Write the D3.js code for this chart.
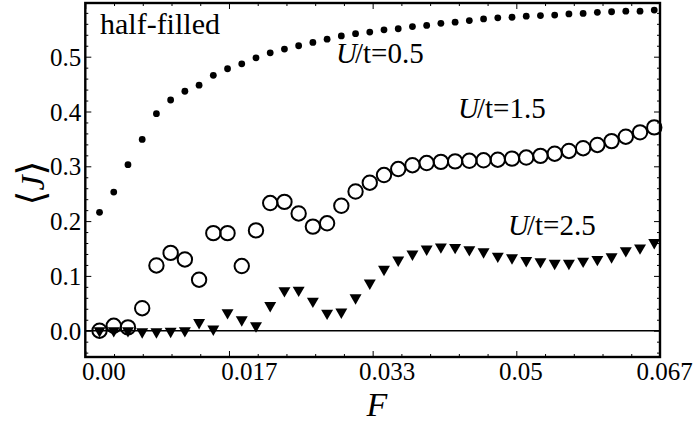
<!DOCTYPE html>
<html><head><meta charset="utf-8">
<script src="https://cdn.jsdelivr.net/npm/d3@7"></script>
<style>
html,body{margin:0;padding:0;background:#fff;}
svg{display:block;}
text{font-family:"Liberation Serif","Times New Roman",serif;fill:#000;}
</style></head>
<body>
<svg id="chart" width="693" height="423"></svg>
<script>
// ---- data ----
const F = [0.00165,0.0033,0.00495,0.0066,0.00825,0.0099,0.01155,0.0132,0.01485,0.0165,
  0.01815,0.0198,0.02145,0.0231,0.02475,0.0264,0.02805,0.0297,0.03135,0.033,
  0.03465,0.0363,0.03795,0.0396,0.04125,0.0429,0.04455,0.0462,0.04785,0.0495,
  0.05115,0.0528,0.05445,0.0561,0.05775,0.0594,0.06105,0.0627,0.06435,0.066];
const J_U05 = [0.216,0.253,0.303,0.349,0.396,0.421,0.437,0.448,0.466,0.478,
  0.487,0.498,0.507,0.514,0.520,0.526,0.532,0.538,0.542,0.545,
  0.549,0.551,0.555,0.557,0.561,0.563,0.566,0.569,0.571,0.572,
  0.574,0.575,0.576,0.578,0.579,0.581,0.582,0.583,0.583,0.585];
const J_U15 = [0.000,0.009,0.006,0.041,0.119,0.142,0.130,0.093,0.178,0.178,
  0.118,0.183,0.233,0.235,0.214,0.190,0.196,0.228,0.254,0.270,
  0.284,0.295,0.302,0.306,0.308,0.309,0.310,0.311,0.312,0.314,
  0.316,0.319,0.323,0.328,0.333,0.339,0.346,0.354,0.362,0.371];
const J_U25 = [0.000,0.000,0.000,-0.002,-0.002,-0.001,0.000,0.015,0.003,0.033,
  0.020,0.009,0.046,0.073,0.074,0.054,0.032,0.034,0.060,0.087,
  0.112,0.129,0.140,0.149,0.153,0.152,0.148,0.144,0.136,0.133,
  0.128,0.126,0.123,0.123,0.127,0.130,0.135,0.146,0.151,0.161];
const xTickValues = [0, 1/60, 2/60, 3/60, 4/60];
const xTickLabels = ["0.00","0.017","0.033","0.05","0.067"];
const yTickValues = [0.0,0.1,0.2,0.3,0.4,0.5];
const yTickLabels = ["0.0","0.1","0.2","0.3","0.4","0.5"];
const seriesLabels = ["0.5","1.5","2.5"];

// ---- layout ----
const svg = d3.select("#chart");
const L = 85.3, R = 660, T = 3, B = 357;
const x = d3.scaleLinear().domain([0, 4/60]).range([L, R]);
const y = d3.scaleLinear().domain([-0.048, 0.598]).range([B, T]);

const minorX = d3.range(0, 21).map(i => i/300).filter(v => !xTickValues.some(t => Math.abs(t - v) < 1e-9));
const minorY = d3.range(-2, 30).map(i => i*0.02).filter(v => v >= -0.048 && v <= 0.598 && Math.abs(v*10 - Math.round(v*10)) > 1e-6);

function styleAxis(g){
  g.select(".domain").remove();
  g.selectAll("line").attr("stroke","#000").attr("stroke-width",1);
}
// bottom axis (ticks inward)
const gx = svg.append("g").attr("transform",`translate(0,${B})`)
  .call(d3.axisBottom(x).tickValues(xTickValues).tickSizeInner(-6).tickSizeOuter(0)
    .tickFormat((d,i)=>xTickLabels[i]));
styleAxis(gx);
const xShift = [18, 20, 14, 4, 4];
gx.selectAll(".tick text").attr("font-size",25).attr("y",0).attr("dy","23px")
  .attr("dx",(d,i)=>xShift[i]).style("font-family","Liberation Serif, serif");
svg.append("g").attr("transform",`translate(0,${B})`)
  .call(d3.axisBottom(x).tickValues(minorX).tickSize(-3).tickFormat(""))
  .call(styleAxis);
// top axis
svg.append("g").attr("transform",`translate(0,${T})`)
  .call(d3.axisTop(x).tickValues(xTickValues).tickSize(-6).tickFormat(""))
  .call(styleAxis);
svg.append("g").attr("transform",`translate(0,${T})`)
  .call(d3.axisTop(x).tickValues(minorX).tickSize(-3).tickFormat(""))
  .call(styleAxis);
// left axis
const gy = svg.append("g").attr("transform",`translate(${L},0)`)
  .call(d3.axisLeft(y).tickValues(yTickValues).tickSizeInner(-6).tickSizeOuter(0)
    .tickFormat((d,i)=>yTickLabels[i]));
styleAxis(gy);
gy.selectAll(".tick text").attr("font-size",25).attr("x",-4).attr("dy","0.34em")
  .style("font-family","Liberation Serif, serif");
svg.append("g").attr("transform",`translate(${L},0)`)
  .call(d3.axisLeft(y).tickValues(minorY).tickSize(-3).tickFormat(""))
  .call(styleAxis);
// right axis
svg.append("g").attr("transform",`translate(${R},0)`)
  .call(d3.axisRight(y).tickValues(yTickValues).tickSize(-6).tickFormat(""))
  .call(styleAxis);
svg.append("g").attr("transform",`translate(${R},0)`)
  .call(d3.axisRight(y).tickValues(minorY).tickSize(-3).tickFormat(""))
  .call(styleAxis);

// zero line
svg.append("line").attr("x1",L).attr("x2",R).attr("y1",y(0)).attr("y2",y(0))
  .attr("stroke","#000").attr("stroke-width",1.6);

// frame
svg.append("rect").attr("x",L).attr("y",T).attr("width",R-L).attr("height",B-T)
  .attr("fill","none").attr("stroke","#000").attr("stroke-width",2.4);

// U/t = 0.5 : small filled dots
svg.append("g").selectAll("circle").data(F.map((f,i)=>[f,J_U05[i]])).join("circle")
  .attr("cx",d=>x(d[0])).attr("cy",d=>y(d[1])).attr("r",3.4).attr("fill","#000");

// U/t = 1.5 : open circles
svg.append("g").selectAll("circle").data(F.map((f,i)=>[f,J_U15[i]])).join("circle")
  .attr("cx",d=>x(d[0])).attr("cy",d=>y(d[1])).attr("r",7.2)
  .attr("fill","none").attr("stroke","#000").attr("stroke-width",2);

// U/t = 2.5 : down triangles
const tri = d3.symbol().type(d3.symbolTriangle).size(62);
svg.append("g").selectAll("path").data(F.map((f,i)=>[f,J_U25[i]])).join("path")
  .attr("d",tri).attr("fill","#000")
  .attr("transform",d=>`translate(${x(d[0])},${y(d[1])}) rotate(180)`);

// annotations
svg.append("text").attr("x",100).attr("y",34).attr("font-size",30).text("half-filled");
const ann = [[336,63],[458,118],[508,235]];
seriesLabels.forEach((s,i)=>{
  const t = svg.append("text").attr("x",ann[i][0]).attr("y",ann[i][1]).attr("font-size",29);
  t.append("tspan").attr("font-style","italic").text("U");
  t.append("tspan").attr("dx","-2").text("/t=" + s);
});

// axis titles
svg.append("text").attr("x",377).attr("y",416).attr("font-size",34).attr("font-style","italic")
  .attr("text-anchor","middle").text("F");
const yl = svg.append("text").attr("transform","translate(44,183) rotate(-90)")
  .attr("font-size",34).attr("text-anchor","middle");
yl.append("tspan").style("font-family","DejaVu Serif, serif").attr("font-size",38).attr("font-weight",300).text("\u27E8");
yl.append("tspan").attr("font-style","italic").text("J");
yl.append("tspan").style("font-family","DejaVu Serif, serif").attr("font-size",38).attr("font-weight",300).text("\u27E9");
</script>
</body></html>
